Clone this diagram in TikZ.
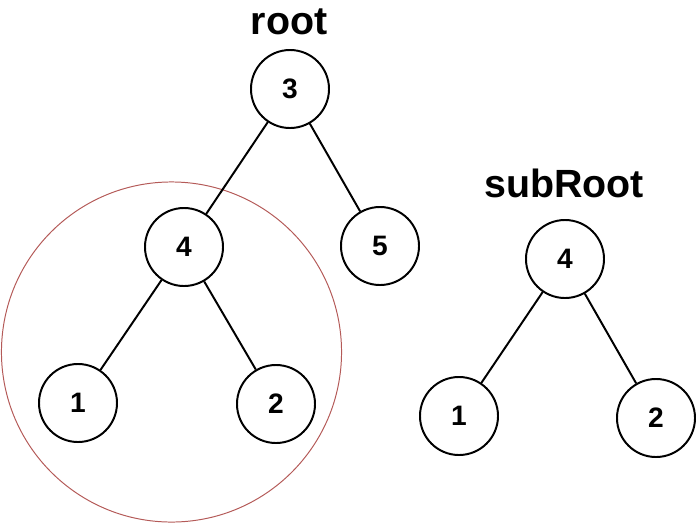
\documentclass[tikz,border=0pt]{standalone}
\usepackage{fontspec}
\setmainfont{Liberation Sans}
\usetikzlibrary{positioning}

\begin{document}
\begin{tikzpicture}[
    x=0.025cm, y=-0.025cm,
    every node/.style={font=\bfseries},
    tnode/.style={
        circle, draw=black, line width=1.4pt,
        minimum size=1.95cm, inner sep=0pt,
        font=\fontsize{20}{20}\selectfont\bfseries
    },
    edge/.style={
        line width=1.4pt, color=black
    },
    lbl/.style={
        font=\fontsize{28}{28}\selectfont\bfseries
    },
    mark circle/.style={
        draw={rgb,255:red,180;green,90;blue,88},
        line width=0.7pt
    }
]

\useasboundingbox (0,0) rectangle (700,522);

%% ── Highlight round the matching subtree ─────────────────────────────
\node[mark circle, circle, minimum size=8.5cm, inner sep=0pt] (hl) at (171.5,352) {};

%% ── Main tree ────────────────────────────────────────────────────────
\node[lbl] (rootlbl) at (289,22) {root};

\node[tnode] (r3) at (290,89)  {3};
\node[tnode] (r4) at (184,247) {4};
\node[tnode] (r5) at (380,246) {5};
\node[tnode] (r1) at (78,403)  {1};
\node[tnode] (r2) at (276,404) {2};

\draw[edge] (r3) -- (r4);
\draw[edge] (r3) -- (r5);
\draw[edge] (r4) -- (r1);
\draw[edge] (r4) -- (r2);

%% ── Sub tree ─────────────────────────────────────────────────────────
\node[lbl] (sublbl) at (564,183) {subRoot};

\node[tnode] (s4) at (565,259) {4};
\node[tnode] (s1) at (459,416) {1};
\node[tnode] (s2) at (656,418) {2};

\draw[edge] (s4) -- (s1);
\draw[edge] (s4) -- (s2);

\end{tikzpicture}
\end{document}
